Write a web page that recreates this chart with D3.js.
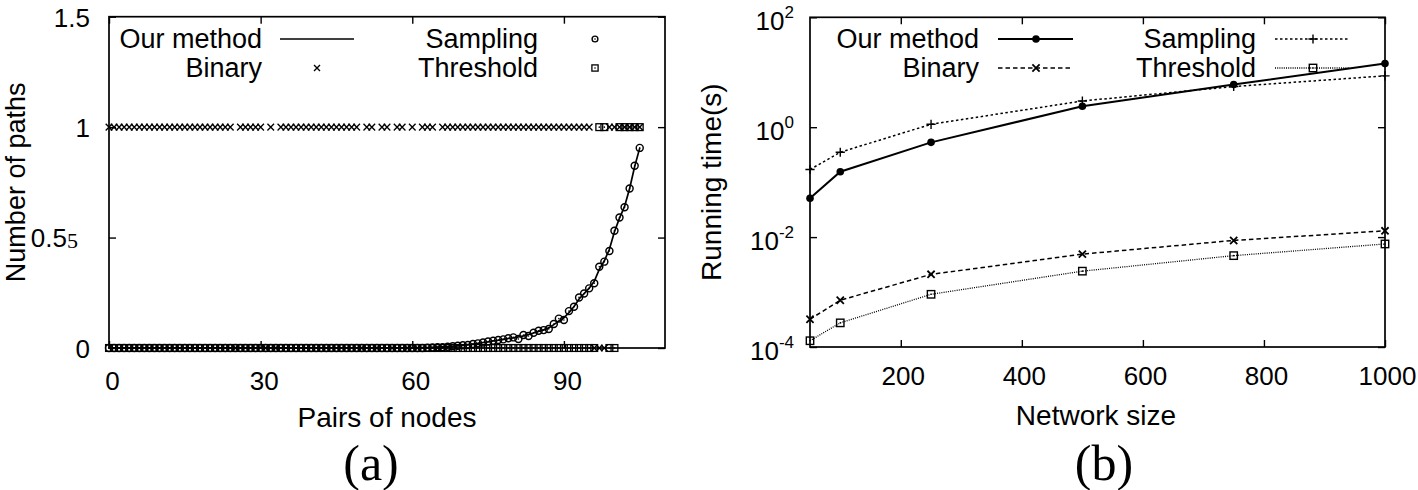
<!DOCTYPE html>
<html><head><meta charset="utf-8">
<script src="https://cdn.jsdelivr.net/npm/d3@7"></script>
<style>body{margin:0;background:#fff}</style>
</head><body>
<svg id="chart" width="1418" height="490"></svg>
<script>
// ---------------- Data: panel (a) ----------------
const pairTicks = [0, 30, 60, 90];
const pathTicks = [0, 0.5, 1, 1.5];
const ourMethodPaths = [
  0,0,0,0,0,0,0,0,0,0,
  0,0,0,0,0,0,0,0,0,0,
  0,0,0,0,0,0,0,0,0,0,
  0,0,0,0,0,0,0,0,0,0,
  0,0,0,0,0,0,0,0,0,0,
  0,0,0,0,0,0,0,0,0,0,
  0.001,0.001,0.002,0.002,0.003,0.004,0.005,0.006,0.008,0.010,
  0.012,0.015,0.018,0.021,0.025,0.028,0.032,0.035,0.039,0.043,
  0.046,0.050,0.055,0.061,0.068,0.075,0.082,0.091,0.106,0.122,
  0.137,0.160,0.188,0.222,0.246,0.271,0.302,0.356,0.395,0.447,
  0.526,0.588,0.641,0.722,0.822,0.905
];
const binaryPaths = [
  1,1,1,1,1,1,1,1,1,1,
  1,1,1,1,1,1,1,1,1,1,
  1,1,1,1,1,0,1,1,1,1,
  1,0,1,0,1,1,1,1,1,1,
  1,1,1,1,1,1,1,1,1,1,
  0,1,1,0,1,1,0,1,1,0,
  1,0,1,1,1,0,1,1,1,1,
  1,1,1,1,1,1,1,1,1,1,
  1,1,1,1,1,1,1,1,1,1,
  1,1,1,1,1,1,0,0,0,1,
  1,1,1,1,1,1
];
const samplingPaths = [
  0,0,0,0,0,0,0,0,0,0,
  0,0,0,0,0,0,0,0,0,0,
  0,0,0,0,0,0,0,0,0,0,
  0,0,0,0,0,0,0,0,0,0,
  0,0,0,0,0,0,0,0,0,0,
  0,0,0,0,0,0,0,0,0,0,
  0,0,0,0.001,0.002,0.003,0.004,0.006,0.008,0.010,
  0.012,0.014,0.018,0.021,0.025,0.029,0.033,0.036,0.039,0.044,
  0.048,0.041,0.059,0.054,0.069,0.078,0.081,0.086,0.109,0.133,
  0.127,0.167,0.187,0.229,0.247,0.270,0.293,0.368,0.391,0.439,
  0.531,0.591,0.637,0.722,0.825,0.906
];
const thresholdPaths = [
  0,0,0,0,0,0,0,0,0,0,
  0,0,0,0,0,0,0,0,0,0,
  0,0,0,0,0,0,0,0,0,0,
  0,0,0,0,0,0,0,0,0,0,
  0,0,0,0,0,0,0,0,0,0,
  0,0,0,0,0,0,0,0,0,0,
  0,0,0,0,0,0,0,0,0,0,
  0,0,0,0,0,0,0,0,0,0,
  0,0,0,0,0,0,0,0,0,0,
  0,0,0,0,0,0,0,1,1,0,
  0,1,1,1,1,1
];

// ---------------- Data: panel (b) ----------------
const networkSizes = [50, 100, 250, 500, 750, 1000];
const sizeTicks = [200, 400, 600, 800, 1000];
const timeTicks = [1e-4, 1e-2, 1e0, 1e2];
const timeTickExponents = ["-4", "-2", "0", "2"];
const ourMethodTime = [0.051, 0.155, 0.53, 2.4, 6.0, 14.4];
const samplingTime  = [0.17, 0.35, 1.13, 3.0, 5.5, 8.6];
const binaryTime    = [3.2e-4, 7.1e-4, 2.1e-3, 4.9e-3, 8.7e-3, 1.3e-2];
const thresholdTime = [1.3e-4, 2.75e-4, 9.1e-4, 2.4e-3, 4.6e-3, 7.5e-3];

const legendNames = ["Our method", "Binary", "Sampling", "Threshold"];

// ---------------- Drawing ----------------
const FONT = "'Liberation Sans', Arial, Helvetica, sans-serif";
const SERIF = "'Liberation Serif', 'Times New Roman', serif";
const svg = d3.select("#chart");
svg.append("rect").attr("width", 1418).attr("height", 490).attr("fill", "#fff");

function crossPath(h) { return `M${-h},${-h}L${h},${h}M${-h},${h}L${h},${-h}`; }
function plusPath(h) { return `M${-h},0L${h},0M0,${-h}L0,${h}`; }

function drawCircleDot(g, x, y, r, sw) {
  g.append("circle").attr("cx", x).attr("cy", y).attr("r", r)
    .attr("fill", "none").attr("stroke", "#000").attr("stroke-width", sw);
  g.append("circle").attr("cx", x).attr("cy", y).attr("r", 0.8).attr("fill", "#000");
}
function drawSquareDot(g, x, y, h, sw) {
  g.append("rect").attr("x", x - h).attr("y", y - h).attr("width", 2 * h).attr("height", 2 * h)
    .attr("fill", "none").attr("stroke", "#000").attr("stroke-width", sw);
  g.append("circle").attr("cx", x).attr("cy", y).attr("r", 0.8).attr("fill", "#000");
}
function drawCross(g, x, y, h, sw) {
  g.append("path").attr("d", crossPath(h)).attr("transform", `translate(${x},${y})`)
    .attr("stroke", "#000").attr("stroke-width", sw).attr("fill", "none");
}
function drawPlus(g, x, y, h, sw) {
  g.append("path").attr("d", plusPath(h)).attr("transform", `translate(${x},${y})`)
    .attr("stroke", "#000").attr("stroke-width", sw).attr("fill", "none");
}
function styleAxis(g) {
  g.attr("font-family", FONT).attr("font-size", 26);
  g.select(".domain").remove();
  g.selectAll(".tick line").attr("stroke", "#000").attr("stroke-width", 1.4);
  g.selectAll("text").attr("fill", "#000");
}

// ===== Panel (a) =====
const xA = d3.scaleLinear().domain([0, 110]).range([109, 665]);
const yA = d3.scaleLinear().domain([0, 1.5]).range([348, 16.7]);
const gA = svg.append("g");

gA.append("g").attr("transform", `translate(0,${yA(0)})`)
  .call(d3.axisBottom(xA).tickValues(pairTicks).tickSizeInner(-7).tickSizeOuter(0).tickFormat(d3.format("d")))
  .call(styleAxis)
  .call(g => g.selectAll("text").attr("y", 42).attr("dy", null).attr("dx", 3));
gA.append("g").attr("transform", `translate(0,${yA(1.5)})`)
  .call(d3.axisTop(xA).tickValues(pairTicks).tickSizeInner(-7).tickSizeOuter(0).tickFormat(""))
  .call(styleAxis);
gA.append("g").attr("transform", `translate(${xA(0)},0)`)
  .call(d3.axisLeft(yA).tickValues(pathTicks).tickSizeInner(-7).tickSizeOuter(0).tickFormat(d => String(d)))
  .call(styleAxis)
  .call(g => g.selectAll("text").attr("x", -19).attr("dy", "0.36em"))
  .call(g => g.selectAll(".tick").filter(d => d === 0.5).select("text")
    .attr("x", -31)
    .append("tspan").attr("font-family", SERIF).attr("font-size", 22).attr("dy", 1).text("5"));
gA.append("g").attr("transform", `translate(${xA(110)},0)`)
  .call(d3.axisRight(yA).tickValues(pathTicks).tickSizeInner(-7).tickSizeOuter(0).tickFormat(""))
  .call(styleAxis);

gA.append("rect").attr("x", xA(0)).attr("y", yA(1.5)).attr("width", xA(110) - xA(0)).attr("height", yA(0) - yA(1.5))
  .attr("fill", "none").attr("stroke", "#000").attr("stroke-width", 1.7);

// series
const lineA = d3.line().x((d, i) => xA(i)).y(d => yA(d));
gA.append("path").datum(ourMethodPaths).attr("d", lineA)
  .attr("fill", "none").attr("stroke", "#000").attr("stroke-width", 1.7);
const mkA = gA.append("g");
binaryPaths.forEach((v, i) => drawCross(mkA, xA(i), yA(v), 3.3, 1.35));
samplingPaths.forEach((v, i) => drawCircleDot(mkA, xA(i), yA(v), 3.5, 1.45));
thresholdPaths.forEach((v, i) => drawSquareDot(mkA, xA(i), yA(v), 3.4, 1.3));

// legend (a)
const legA = gA.append("g").attr("font-family", FONT).attr("font-size", 27).attr("fill", "#000");
legA.append("text").attr("x", 262).attr("y", 48).attr("text-anchor", "end").text(legendNames[0]);
legA.append("text").attr("x", 262).attr("y", 77).attr("text-anchor", "end").text(legendNames[1]);
legA.append("text").attr("x", 538).attr("y", 48).attr("text-anchor", "end").text(legendNames[2]);
legA.append("text").attr("x", 538).attr("y", 77).attr("text-anchor", "end").text(legendNames[3]);
legA.append("line").attr("x1", 280).attr("x2", 354).attr("y1", 39).attr("y2", 39)
  .attr("stroke", "#000").attr("stroke-width", 1.7);
drawCross(legA, 317, 68, 3, 1.35);
drawCircleDot(legA, 595, 39, 2.9, 1.4);
drawSquareDot(legA, 595, 68, 3.1, 1.3);

// titles (a)
gA.append("text").attr("x", 387).attr("y", 427).attr("text-anchor", "middle")
  .attr("font-family", FONT).attr("font-size", 28).text("Pairs of nodes");
gA.append("text").attr("transform", `translate(25,${(yA(0) + yA(1.5)) / 2}) rotate(-90)`).attr("text-anchor", "middle")
  .attr("font-family", FONT).attr("font-size", 27).text("Number of paths");
gA.append("text").attr("x", 371).attr("y", 480).attr("text-anchor", "middle")
  .attr("font-family", SERIF).attr("font-size", 50).text("(a)");

// ===== Panel (b) =====
const xB = d3.scaleLinear().domain([50, 1000]).range([810, 1385]);
const yB = d3.scaleLog().domain([1e-4, 1e2]).range([347, 17.3]);
const gB = svg.append("g");

gB.append("g").attr("transform", `translate(0,${yB(1e-4)})`)
  .call(d3.axisBottom(xB).tickValues(sizeTicks).tickSizeInner(-7).tickSizeOuter(0).tickFormat(d3.format("d")))
  .call(styleAxis)
  .call(g => g.selectAll("text").attr("y", 38).attr("dy", null).attr("dx", 2));
gB.append("g").attr("transform", `translate(0,${yB(1e2)})`)
  .call(d3.axisTop(xB).tickValues(sizeTicks).tickSizeInner(-7).tickSizeOuter(0).tickFormat(""))
  .call(styleAxis);
gB.append("g").attr("transform", `translate(${xB(50)},0)`)
  .call(d3.axisLeft(yB).tickValues(timeTicks).tickSizeInner(-7).tickSizeOuter(0).tickFormat(() => "10"))
  .call(styleAxis)
  .call(g => g.selectAll(".tick text").attr("x", -16).attr("y", 12).attr("dy", null)
    .each(function (d, i) {
      d3.select(this).append("tspan").attr("dy", -12).attr("font-size", 17).text(timeTickExponents[i]);
    }));
gB.append("g").attr("transform", `translate(${xB(1000)},0)`)
  .call(d3.axisRight(yB).tickValues(timeTicks).tickSizeInner(-7).tickSizeOuter(0).tickFormat(""))
  .call(styleAxis);

gB.append("rect").attr("x", xB(50)).attr("y", yB(1e2)).attr("width", xB(1000) - xB(50)).attr("height", yB(1e-4) - yB(1e2))
  .attr("fill", "none").attr("stroke", "#000").attr("stroke-width", 1.7);

const lineB = d3.line().x((d, i) => xB(networkSizes[i])).y(d => yB(d));
const seriesB = [
  { vals: ourMethodTime, dash: null, w: 2 },
  { vals: binaryTime, dash: "4.5,3", w: 1.5 },
  { vals: samplingTime, dash: "2.5,2.5", w: 1.5 },
  { vals: thresholdTime, dash: "1,1.2", w: 1.3 }
];
seriesB.forEach(s => {
  gB.append("path").datum(s.vals).attr("d", lineB).attr("fill", "none")
    .attr("stroke", "#000").attr("stroke-width", s.w).attr("stroke-dasharray", s.dash);
});
const mkB = gB.append("g");
ourMethodTime.forEach((v, i) => mkB.append("circle").attr("cx", xB(networkSizes[i])).attr("cy", yB(v)).attr("r", 3.8).attr("fill", "#000"));
binaryTime.forEach((v, i) => drawCross(mkB, xB(networkSizes[i]), yB(v), 3.6, 1.8));
samplingTime.forEach((v, i) => drawPlus(mkB, xB(networkSizes[i]), yB(v), 4.6, 1.4));
thresholdTime.forEach((v, i) => drawSquareDot(mkB, xB(networkSizes[i]), yB(v), 3.7, 1.4));

// legend (b)
const legB = gB.append("g").attr("font-family", FONT).attr("font-size", 27).attr("fill", "#000");
legB.append("text").attr("x", 979).attr("y", 48).attr("text-anchor", "end").text(legendNames[0]);
legB.append("text").attr("x", 979).attr("y", 77).attr("text-anchor", "end").text(legendNames[1]);
legB.append("text").attr("x", 1256).attr("y", 48).attr("text-anchor", "end").text(legendNames[2]);
legB.append("text").attr("x", 1256).attr("y", 77).attr("text-anchor", "end").text(legendNames[3]);
const legLines = [
  { x1: 998, y: 39, s: seriesB[0] }, { x1: 998, y: 68, s: seriesB[1] },
  { x1: 1275, y: 39, s: seriesB[2] }, { x1: 1275, y: 68, s: seriesB[3] }
];
legLines.forEach(l => legB.append("line").attr("x1", l.x1).attr("x2", l.x1 + 75).attr("y1", l.y).attr("y2", l.y)
  .attr("stroke", "#000").attr("stroke-width", l.s.w).attr("stroke-dasharray", l.s.dash));
legB.append("circle").attr("cx", 1036).attr("cy", 39).attr("r", 3.8).attr("fill", "#000");
drawCross(legB, 1036, 68, 3.6, 1.8);
drawPlus(legB, 1313, 39, 4.6, 1.4);
drawSquareDot(legB, 1313, 68, 3.7, 1.4);

// titles (b)
gB.append("text").attr("x", 1096).attr("y", 425).attr("text-anchor", "middle")
  .attr("font-family", FONT).attr("font-size", 28).text("Network size");
gB.append("text").attr("transform", `translate(721,${(yB(1e-4) + yB(1e2)) / 2}) rotate(-90)`).attr("text-anchor", "middle")
  .attr("font-family", FONT).attr("font-size", 28).text("Running time(s)");
gB.append("text").attr("x", 1104).attr("y", 480).attr("text-anchor", "middle")
  .attr("font-family", SERIF).attr("font-size", 50).text("(b)");
</script>
</body></html>
